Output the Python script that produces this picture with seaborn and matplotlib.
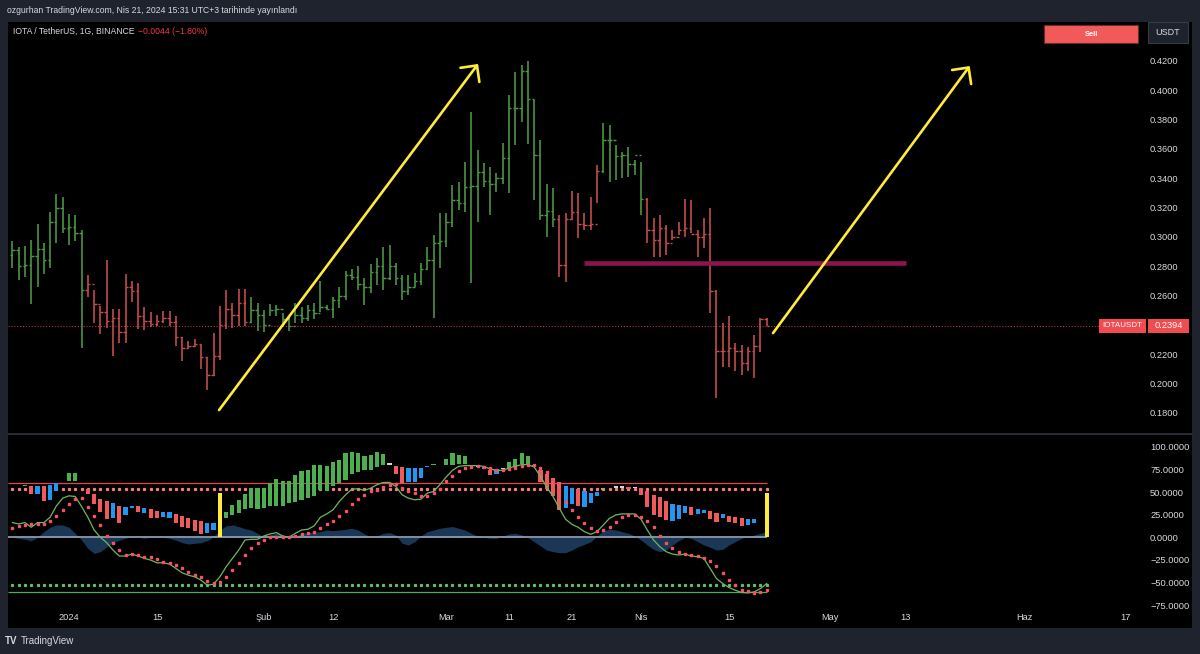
import numpy as np
import pandas as pd
import matplotlib
matplotlib.use("Agg")
import matplotlib.pyplot as plt
import matplotlib.dates as mdates
from matplotlib.patches import FancyArrowPatch, Rectangle
from matplotlib.lines import Line2D
from matplotlib.ticker import FixedLocator, FixedFormatter, FuncFormatter
import seaborn as sns

# ---------------------------------------------------------------- data
FIRST_BAR = "2023-12-23"

bar_open = [
    .288, .291, .280, .281, .287, .292, .284, .310, .320, .306,
    .307, .303, .264, .268, .254, .249, .243, .245, .235, .266,
    .263, .246, .243, .241, .243, .245, .242, .232, .224, .226,
    .227, .218, .206, .219, .240, .251, .247, .255, .242, .250,
    .247, .240, .250, .251, .244, .239, .247, .245, .250, .248,
    .252, .251, .257, .260, .274, .273, .268, .266, .276, .280,
    .272, .280, .272, .263, .266, .270, .278, .284, .296, .297,
    .310, .325, .323, .334, .335, .344, .338, .336, .340, .354,
    .388, .388, .413, .394, .356, .315, .318, .312, .281, .312,
    .317, .309, .308, .309, .345, .366, .366, .355, .356, .350,
    .356, .326, .305, .298, .306, .296, .300, .305, .306, .302,
    .300, .302, .263, .222, .222, .224, .222, .214, .222, .226,
    .2438]
bar_high = [
    .297, .2935, .294, .298, .309, .296, .317, .329, .3275, .3155,
    .315, .305, .274, .264, .253, .284, .251, .251, .275, .270,
    .2685, .252, .249, .247, .2497, .2497, .2458, .232, .229, .2306,
    .2265, .2185, .2344, .2531, .264, .255, .2644, .2646, .259, .2553,
    .250, .2542, .2533, .2481, .2458, .2549, .2526, .2538, .2553, .2697,
    .2538, .2594, .2662, .2765, .2781, .2799, .2719, .2817, .2856, .2935,
    .2946, .2821, .2742, .2742, .2753, .2821, .2935, .3015, .3162, .3162,
    .3355, .3378, .3514, .3855, .3594, .3503, .3480, .3435, .3639, .3968,
    .4127, .4173, .4202, .3934, .3662, .3362, .3333, .3150, .3162, .3316,
    .3303, .3162, .3275, .3491, .3775, .3764, .3627, .3582, .3616, .3525,
    .3514, .3264, .3128, .3150, .3082, .3048, .3105, .3257, .3253, .3048,
    .3128, .3196, .2640, .2412, .2462, .2276, .2265, .2253, .2333, .2446,
    .2446]
bar_low = [
    .279, .271, .273, .254, .266, .275, .279, .296, .3026, .2946,
    .2976, .2242, .259, .2417, .2337, .2378, .219, .2276, .2276, .256,
    .2372, .2367, .2383, .239, .2412, .239, .2258, .2156, .2238, .2253,
    .2099, .1958, .2049, .2163, .2374, .2378, .239, .239, .2412, .236,
    .2349, .2458, .2458, .239, .2356, .2412, .2413, .2424, .244, .2492,
    .2503, .2451, .2515, .2572, .2708, .264, .2538, .2617, .2674, .264,
    .2708, .2674, .2572, .2606, .2662, .2674, .2776, .2447, .2787, .2935,
    .3071, .3185, .3173, .2685, .3105, .3344, .3151, .331, .3362, .3298,
    .3628, .3787, .3634, .3253, .3117, .3003, .3071, .273, .269, .3116,
    .2992, .3048, .3048, .323, .3434, .3378, .3389, .34, .3412, .3423,
    .315, .2957, .2867, .2867, .2878, .298, .3014, .3003, .3026, .2867,
    .2923, .2481, .1901, .2117, .2117, .2083, .2061, .2083, .2038, .2219,
    .239]
bar_close = [
    .291, .280, .281, .287, .292, .284, .310, .320, .306, .307,
    .303, .264, .268, .254, .249, .243, .245, .235, .266, .263,
    .246, .243, .241, .243, .245, .242, .232, .224, .226, .227,
    .218, .206, .219, .240, .251, .247, .255, .242, .250, .247,
    .240, .250, .251, .244, .239, .247, .245, .250, .248, .252,
    .251, .257, .260, .274, .273, .268, .266, .276, .280, .272,
    .280, .272, .263, .266, .270, .278, .284, .296, .297, .310,
    .325, .323, .334, .335, .344, .338, .336, .340, .354, .388,
    .388, .413, .394, .356, .315, .318, .312, .281, .312, .317,
    .309, .308, .309, .345, .366, .366, .355, .356, .350, .356,
    .326, .305, .298, .306, .296, .300, .305, .306, .302, .300,
    .302, .263, .222, .222, .224, .222, .214, .222, .226, .2438,
    .2394]
# trend colouring of the bars: (number of bars, direction)
trend_runs = [(12, "up"), (26, "down"), (49, "up"), (7, "down"), (7, "up"), (20, "down")]

# oscillator pane
osc_line = [
    16.3, 14.8, 16.3, 11.1, 16.3, 16.3, 22.2, 34.8, 43.3, 45.9,
    45.2, 34.1, 22.2, 8.1, 0.0, -5.9, -14.1, -20.7, -20.7, -18.5,
    -20.7, -23.3, -25.2, -28.2, -28.2, -29.6, -34.4, -39.3, -41.9, -43.7,
    -47.4, -53.0, -51.9, -43.7, -32.6, -23.3, -14.1, -3.0, -2.2, -2.2,
    1.5, 3.7, 5.2, 1.5, 0.0, 4.4, 8.1, 8.9, 12.6, 22.2,
    25.9, 30.4, 39.6, 47.0, 53.3, 53.7, 51.9, 54.4, 58.2, 60.7,
    60.7, 56.3, 47.0, 43.3, 41.5, 42.2, 48.9, 50.7, 58.2, 66.7,
    74.1, 78.5, 79.3, 79.3, 79.3, 78.5, 75.6, 74.1, 74.1, 76.7,
    78.5, 80.4, 80.4, 77.8, 67.4, 55.6, 45.2, 32.2, 20.0, 14.4,
    11.1, 6.3, 3.3, 6.3, 13.7, 21.1, 24.8, 25.9, 25.9, 25.9,
    20.0, 8.1, -3.0, -10.4, -15.9, -18.5, -19.6, -18.5, -20.7, -21.5,
    -23.3, -34.4, -45.6, -51.1, -55.6, -58.5, -61.1, -61.5, -60.4, -56.7,
    -51.1]
signal_dots = [
    10.0, 12.6, 13.7, 14.4, 14.8, 14.4, 18.5, 23.7, 30.4, 37.0,
    42.6, 43.3, 33.3, 23.7, 13.7, 1.5, -6.7, -14.1, -19.6, -18.5,
    -19.6, -21.5, -22.2, -24.4, -27.0, -28.2, -30.7, -34.4, -38.2, -41.9,
    -43.7, -48.2, -50.4, -49.3, -43.7, -36.3, -28.9, -19.6, -12.2, -5.9,
    -3.0, 0.0, 0.7, 0.7, 0.7, 1.5, 3.7, 4.4, 6.3, 10.0,
    14.8, 18.5, 23.7, 29.6, 37.0, 42.2, 47.0, 50.7, 52.6, 55.6,
    58.2, 58.9, 54.4, 50.7, 48.9, 45.2, 45.9, 48.9, 53.3, 61.9,
    67.4, 73.0, 76.7, 77.8, 78.5, 77.8, 76.7, 74.8, 74.8, 75.6,
    76.7, 78.5, 80.4, 80.4, 76.7, 71.9, 61.9, 50.7, 39.6, 30.4,
    23.0, 16.3, 10.0, 7.0, 8.1, 11.9, 17.4, 22.2, 24.8, 24.8,
    22.2, 18.5, 11.1, 1.5, -6.7, -12.2, -15.9, -18.5, -19.6, -20.7,
    -23.3, -25.9, -31.9, -39.3, -47.4, -53.0, -57.8, -59.6, -61.5, -60.4,
    -58.5]
wave = [
    0.0, -1.1, -2.2, -3.7, 0.0, 6.3, 11.1, 13.7, 13.7, 11.1,
    4.4, -3.0, -12.2, -17.8, -15.9, -10.4, -5.9, -3.0, -1.1, 0.7,
    0.0, -1.1, 0.0, 0.7, 0.0, -1.1, -3.0, -5.9, -7.4, -6.7,
    -5.9, -3.7, 0.7, 8.1, 12.6, 13.7, 11.9, 9.6, 8.1, 4.4,
    0.7, 2.6, 4.4, 2.6, 0.0, 1.5, 4.4, 5.2, 5.2, 6.3,
    8.1, 7.4, 8.1, 8.9, 10.0, 8.1, 3.7, 0.7, 1.5, 4.4,
    5.2, 2.6, -6.7, -8.5, -4.8, 1.5, 6.3, 8.1, 10.0, 11.1,
    11.9, 10.0, 8.1, 4.4, 1.5, 0.0, -1.1, -1.1, 1.5, 3.7,
    4.4, 2.6, 0.0, -4.8, -9.6, -14.1, -15.9, -17.0, -17.0, -14.1,
    -10.4, -7.8, -4.8, 1.5, 7.4, 8.9, 8.1, 6.3, 4.4, 1.5,
    -3.0, -8.5, -13.3, -15.9, -14.1, -8.5, -3.7, 0.0, -1.1, -4.8,
    -8.5, -11.1, -14.1, -13.3, -8.5, -4.8, -1.1, 0.7, 2.6, 4.4,
    6.3]
hist_top = [
    None, None, 57.4, 56.3, 56.3, 57.0, 58.2, 60.0, None, 71.1,
    71.1, None, 53.3, 48.2, 42.6, 40.4, 37.8, 34.8, 33.3, 34.8,
    34.1, 32.2, 31.1, 29.6, 28.5, 27.8, 25.9, 23.7, 21.1, 19.3,
    18.1, 16.3, 16.3, None, 28.5, 35.9, 41.5, 48.2, 54.4, 54.4,
    54.4, 60.0, 64.4, 61.9, 61.9, 69.3, 73.0, 74.1, 80.4, 80.4,
    79.3, 83.0, 85.9, 93.3, 94.1, 93.3, 89.6, 91.5, 94.1, 92.6,
    82.2, 79.3, 77.8, 76.7, 76.7, 76.7, 79.3, 80.7, None, 86.7,
    93.3, 91.5, 90.4, None, 79.3, 77.8, 74.8, 75.6, 76.7, 83.3,
    86.7, 93.3, 89.6, 80.4, 74.1, 70.4, 65.6, 60.7, 56.3, 54.4,
    53.3, 50.7, 48.9, 49.6, 54.1, None, 56.3, 56.3, 55.6, 55.6,
    54.4, 50.7, 47.0, 44.1, 40.7, 37.0, 35.9, 34.8, 33.3, 31.5,
    30.4, 29.3, 27.4, 25.9, 23.7, 22.2, 21.1, 20.0, 20.0, None,
    None]
hist_bottom = [
    None, None, 56.3, 47.8, 47.8, 40.7, 41.5, 50.7, None, 61.9,
    61.9, None, 48.2, 37.0, 27.8, 20.0, 21.1, 15.6, 24.8, 31.9,
    28.5, 27.4, 21.1, 21.1, 22.2, 21.1, 15.6, 11.9, 10.0, 7.4,
    3.3, 4.4, 8.1, None, 21.1, 24.8, 27.4, 31.1, 32.2, 31.1,
    32.2, 34.8, 34.1, 34.8, 37.8, 39.6, 41.5, 43.3, 45.9, 52.6,
    50.7, 56.3, 60.0, 63.7, 70.4, 71.9, 74.1, 74.8, 77.8, 80.0,
    80.4, 70.4, 60.0, 60.7, 61.1, 65.6, 77.8, 79.6, None, 79.6,
    80.4, 81.1, 81.5, None, 78.1, 75.6, 69.3, 70.0, 75.6, 76.7,
    77.8, 81.5, 81.1, 78.5, 60.7, 53.3, 45.2, 30.4, 32.2, 37.0,
    34.1, 33.3, 37.8, 45.9, 52.6, None, 54.8, 54.8, 53.3, 54.1,
    47.0, 33.0, 24.8, 23.0, 19.3, 18.5, 20.0, 26.7, 24.8, 25.9,
    27.4, 20.0, 17.4, 21.1, 17.0, 15.6, 13.0, 14.1, 15.6, None,
    None]
hist_kind = [
    "", "", "g", "r", "b", "r", "b", "b", "", "g",
    "g", "", "r", "r", "r", "r", "b", "r", "b", "b",
    "r", "b", "r", "r", "b", "b", "r", "r", "r", "r",
    "r", "b", "b", "", "g", "g", "g", "g", "g", "g",
    "g", "g", "g", "g", "g", "g", "g", "g", "g", "g",
    "g", "g", "g", "g", "g", "g", "g", "g", "g", "g",
    "w", "r", "r", "b", "b", "b", "b", "g", "", "g",
    "g", "g", "g", "", "w", "b", "r", "b", "w", "g",
    "g", "g", "g", "r", "r", "r", "r", "r", "b", "b",
    "r", "b", "b", "b", "o", "", "w", "w", "r", "w",
    "r", "r", "r", "r", "r", "b", "b", "b", "r", "b",
    "b", "r", "r", "b", "r", "r", "r", "b", "b", "",
    ""]
signal_bar_dates = ["2024-01-25", "2024-04-21"]
signal_bar_height = 49
level_solid = 60
level_dotted = 53

# 0.2400 is hidden behind the last-price label in the reference
price_ticks = [0.18, 0.20, 0.22, 0.26, 0.28, 0.30, 0.32, 0.34, 0.36, 0.38, 0.40, 0.42]
osc_ticks = [-75, -50, -25, 0, 25, 50, 75, 100]
time_tick_dates = ["2024-01-01", "2024-01-15", "2024-02-01", "2024-02-12", "2024-03-01",
                   "2024-03-11", "2024-03-21", "2024-04-01", "2024-04-15", "2024-05-01",
                   "2024-05-13", "2024-06-01", "2024-06-17"]
time_tick_labels = ["2024", "15", "Şub", "12", "Mar", "11", "21", "Nis", "15", "May", "13", "Haz", "17"]

# drawings
support_price = 0.2823
support_span = ["2024-03-22 22:00", "2024-05-13 05:00"]
arrow_tails = [("2024-01-24 21:00", 0.182), ("2024-04-22 00:00", 0.2345)]
arrow_heads = [("2024-03-06 02:00", 0.418), ("2024-05-23 07:00", 0.4166)]

# ---------------------------------------------------------------- style
sns.set_theme(style="dark")
plt.rcParams["font.family"] = ["Liberation Sans", "DejaVu Sans"]

FRAME = "#1f232e"
TXT = "#d8dae0"
UP = "#4f9a48"
DOWN = "#c9504f"
HCOL = {"g": "#4caf50", "r": "#f05a5a", "b": "#2196f3", "w": "#d1d4dc", "o": "#c9a227"}

W, H = 1200, 654
fig = plt.figure(figsize=(12, 6.54), dpi=100)
fig.patch.set_facecolor(FRAME)


def rect(x0, y0, x1, y1):
    return [x0 / W, 1 - y1 / H, (x1 - x0) / W, (y1 - y0) / H]


bg = fig.add_axes(rect(8, 22, 1192, 628))
bg.set_facecolor("black")
bg.set_xticks([]); bg.set_yticks([])
for s in bg.spines.values():
    s.set_visible(False)

ax_p = fig.add_axes(rect(8, 22, 1192, 433))
ax_i = fig.add_axes(rect(8, 434, 1192, 608), sharex=ax_p)
for ax in (ax_p, ax_i):
    ax.set_facecolor("none")
    ax.grid(False)
    for s in ax.spines.values():
        s.set_visible(False)

n = len(bar_close)
xd = mdates.date2num(pd.date_range(FIRST_BAR, periods=n))
jan1 = mdates.date2num(pd.Timestamp("2024-01-01"))
ax_p.set_xlim(jan1 - 9.70, jan1 + 178.65)

# ---------------------------------------------------------------- price pane
cols = []
for cnt, d in trend_runs:
    cols += [UP if d == "up" else DOWN] * cnt
ax_p.vlines(xd, bar_low, bar_high, colors=cols, lw=1.15)
ax_p.hlines(bar_open, xd - 0.38, xd, colors=cols, lw=1.0)
ax_p.hlines(bar_close, xd, xd + 0.38, colors=cols, lw=1.0)

ax_p.set_ylim(0.16636, 0.44659)
ax_p.yaxis.tick_right()
ax_p.yaxis.set_major_locator(FixedLocator(price_ticks))
ax_p.yaxis.set_major_formatter(FuncFormatter(lambda v, p: f"{v:.4f}"))
ax_p.tick_params(axis="y", length=0, pad=-30.2, labelsize=6.7, labelcolor=TXT)
ax_p.tick_params(axis="x", length=0, labelbottom=False)

# last price line and label
last = bar_close[-1]
ax_p.axhline(last, xmin=0, xmax=(1099 - 8) / 1184, color="#e0484d", lw=0.8,
             ls=(0, (1, 1.6)), alpha=0.8)
tr = ax_p.get_yaxis_transform()
hgt = 14 / 1466.7
ax_p.add_patch(Rectangle(((1099 - 8) / 1184, last - hgt / 2), 47 / 1184, hgt, transform=tr,
                         fc="#f04b4f", ec="none", clip_on=False, zorder=5))
ax_p.add_patch(Rectangle(((1148 - 8) / 1184, last - hgt / 2), 41 / 1184, hgt, transform=tr,
                         fc="#f04b4f", ec="none", clip_on=False, zorder=5))
ax_p.text((1122.5 - 8) / 1184, last, "IOTAUSDT", transform=tr, ha="center", va="center",
          fontsize=5.8, color="white", zorder=6)
ax_p.text((1168.5 - 8) / 1184, last, f"{last:.4f}", transform=tr, ha="center", va="center",
          fontsize=6.7, color="white", zorder=6)

# support line
sx = mdates.date2num(pd.to_datetime(support_span))
ax_p.hlines(support_price, sx[0], sx[1], color="#8c1450", lw=3.3, zorder=3)

# arrows
for (t0, p0), (t1, p1) in zip(arrow_tails, arrow_heads):
    a = FancyArrowPatch((mdates.date2num(pd.Timestamp(t0)), p0),
                        (mdates.date2num(pd.Timestamp(t1)), p1),
                        arrowstyle="->,head_length=0.85,head_width=0.85", mutation_scale=10,
                        color="#ffeb3b", lw=1.9, shrinkA=0, shrinkB=0, zorder=4)
    ax_p.add_patch(a)

# ---------------------------------------------------------------- oscillator pane
ax_i.set_ylim(-78.2, 114.3)
x_end = xd[-1]
x_start = jan1 - 9.70
ax_i.fill_between(xd, 0, wave, color="#1a3856", lw=0, zorder=1)
ax_i.hlines(0, x_start, x_end, color="#8d9bb0", lw=1.3, zorder=2)
ax_i.hlines(level_solid, x_start, x_end, color="#e0484d", lw=0.9, zorder=2)
ax_i.hlines(-level_solid, x_start, x_end, color="#4caf50", lw=0.9, zorder=2)
ax_i.plot(xd, [level_dotted] * n, ls="none", marker="s", ms=1.3, color="#f77c80", zorder=2)
ax_i.plot(xd, [-level_dotted] * n, ls="none", marker="s", ms=1.3, color="#5fbf5f", zorder=2)

ht = np.array([np.nan if v is None else v for v in hist_top])
hb = np.array([np.nan if v is None else v for v in hist_bottom])
ok = ~np.isnan(ht)
ax_i.bar(xd[ok], np.maximum(ht[ok] - hb[ok], 1.0), bottom=hb[ok], width=0.66,
         color=[HCOL[k] for k, o in zip(hist_kind, ok) if o], lw=0, zorder=3)
sbx = mdates.date2num(pd.to_datetime(signal_bar_dates))
ax_i.bar(sbx, signal_bar_height, bottom=0, width=0.66, color="#ffeb3b", lw=0, zorder=3)

sns.lineplot(x=xd, y=osc_line, ax=ax_i, color="#6cb85e", lw=0.9, zorder=4)
ax_i.plot(xd, signal_dots, ls="none", marker="s", ms=1.6, color="#f7525f", zorder=5)
ax_i.set_xlabel(""); ax_i.set_ylabel("")

ax_i.yaxis.tick_right()
ax_i.yaxis.set_major_locator(FixedLocator(osc_ticks))
ax_i.yaxis.set_major_formatter(FuncFormatter(lambda v, p: f"{v:.4f}".replace("-", "\u2212")))
ax_i.tick_params(axis="y", length=0, pad=-30.2, labelsize=6.7, labelcolor=TXT)

ax_i.xaxis.set_major_locator(FixedLocator(mdates.date2num(pd.to_datetime(time_tick_dates))))
ax_i.xaxis.set_major_formatter(FixedFormatter(time_tick_labels))
ax_i.tick_params(axis="x", length=0, pad=3.5, labelsize=6.7, labelcolor=TXT)

# pane separator
fig.add_artist(Line2D([8 / W, 1192 / W], [1 - 433.5 / H, 1 - 433.5 / H], color="#2f333e", lw=1.2))

# ---------------------------------------------------------------- texts / widgets
fig.text(7 / W, 1 - 10.5 / H, "ozgurhan TradingView.com, Nis 21, 2024 15:31 UTC+3 tarihinde yayınlandı",
         fontsize=6.2, color=TXT, va="center", ha="left")
fig.text(13 / W, 1 - 31 / H, "IOTA / TetherUS, 1G, BINANCE", fontsize=6.2, color=TXT,
         va="center", ha="left")
fig.text(138 / W, 1 - 31 / H, "\u22120.0044 (\u22121.80%)", fontsize=6.2, color="#f23645",
         va="center", ha="left")

fig.add_artist(Rectangle((1044 / W, 1 - 43 / H), 94 / W, 18 / H, transform=fig.transFigure,
                         fc="#f25a5a", ec="#6b2a2a", lw=0.8))
fig.text(1091 / W, 1 - 34 / H, "Sell", fontsize=5.4, color="white", ha="center", va="center",
         fontweight="bold")
fig.add_artist(Rectangle((1148 / W, 1 - 43 / H), 40 / W, 21 / H, transform=fig.transFigure,
                         fc="#1e222d", ec="#363a45", lw=0.8))
fig.text(1168 / W, 1 - 32.5 / H, "USDT", fontsize=6.5, color=TXT, ha="center", va="center")

fig.text(5 / W, 1 - 640.5 / H, "TV", fontsize=7, color=TXT, ha="left", va="center", fontweight="bold")
fig.text(21 / W, 1 - 640.5 / H, "TradingView", fontsize=7, color=TXT, ha="left", va="center")

fig.savefig("out.png", dpi=100, facecolor=fig.get_facecolor())
